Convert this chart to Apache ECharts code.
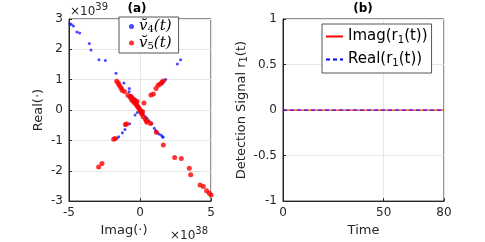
<!DOCTYPE html>
<html><head><meta charset="utf-8">
<script src="https://cdn.jsdelivr.net/npm/echarts@6/dist/echarts.min.js"></script>
<style>html,body{margin:0;padding:0;background:#fff}#c{width:485px;height:242px}</style>
</head><body><div id="c"></div>
<script>
// Panel (a): Imag (x, ×10^38) and Real (y, ×10^39)
const v4Imag = [-4.93,-4.84,-4.69,-4.44,-4.25,-3.57,-3.45,-2.89,-2.44,-1.69,-1.13,-1.25,-0.77,-0.66,-0.52,-0.35,-0.28,-0.16,-0.05,0.12,0.23,0.38,0.49,0.63,0.82,1.01,1.10,1.20,1.34,1.50,1.60,1.62,2.86,2.63,1.81,1.64,1.57,-0.73,-1.06,-1.24,-1.50,-1.62,-0.35,-0.19,-0.75];
const v4Real = [2.84,2.82,2.77,2.57,2.54,2.19,1.98,1.66,1.63,1.21,0.89,0.73,0.60,0.49,0.42,0.37,0.23,0.13,0.05,-0.06,-0.13,-0.22,-0.27,-0.35,-0.44,-0.60,-0.67,-0.75,-0.79,-0.83,-0.88,-0.90,1.66,1.52,1.01,0.93,0.87,-0.45,-0.64,-0.75,-0.88,-0.93,-0.16,-0.08,0.71];
const v5Imag = [-1.64,-1.53,-1.46,-1.36,-1.27,-1.10,-0.85,-0.70,-0.59,-0.47,-0.38,-0.28,-0.21,-0.14,-0.07,0.00,0.07,0.14,0.23,0.38,0.49,0.28,0.77,0.94,1.13,1.27,1.41,1.53,1.64,0.75,1.15,1.64,-1.03,-0.94,-1.76,-1.85,-2.91,-2.68,2.44,2.91,3.47,3.57,4.23,4.46,4.69,4.88,5.00,-0.52,-0.30,-0.20,0.05,0.10,0.18,-0.62,0.45];
const v5Real = [0.95,0.89,0.82,0.74,0.65,0.61,0.49,0.42,0.33,0.28,0.23,0.19,0.14,0.10,0.05,0.00,-0.06,-0.13,-0.22,-0.30,-0.40,0.23,0.50,0.53,0.71,0.82,0.85,0.92,0.96,-0.44,-0.73,-1.15,-0.48,-0.46,-0.94,-0.96,-1.88,-1.76,-1.56,-1.60,-1.92,-2.13,-2.47,-2.52,-2.66,-2.74,-2.80,0.38,0.30,0.28,-0.02,-0.10,-0.05,0.45,-0.35];
// Panel (b)
const timeVals = [0, 80];
const imagR1 = [0, 0];
const realR1 = [0, 0];
const xTicksA = [-5, 0, 5];
const yTicksA = [-3, -2, -1, 0, 1, 2, 3];

const zip = (a, b) => a.map((v, i) => [v, b[i]]);
const axisCol = '#262626';
const gridCol = '#e6e6e6';
const FONT = 'DejaVu Sans';
const lblStyle = { color: axisCol, fontSize: 12, fontFamily: FONT };
const baseAxis = {
  axisLine: { show: true, onZero: false, lineStyle: { color: axisCol } },
  axisTick: { show: true, inside: true, length: 3, lineStyle: { color: axisCol } },
  splitLine: { show: true, lineStyle: { color: gridCol } },
  axisLabel: Object.assign({ margin: 6 }, lblStyle),
  nameTextStyle: { color: axisCol, fontSize: 13, fontFamily: FONT }
};
const chart = echarts.init(document.getElementById('c'), null, { renderer: 'canvas' });
chart.setOption({
  animation: false,
  backgroundColor: '#fff',
  title: [
    { text: '(a)', left: 137, top: 3, padding: 0, textAlign: 'center', textStyle: { fontSize: 12, fontWeight: 'bold', color: '#000', fontFamily: FONT } },
    { text: '(b)', left: 363, top: 3, padding: 0, textAlign: 'center', textStyle: { fontSize: 12, fontWeight: 'bold', color: '#000', fontFamily: FONT } }
  ],
  grid: [
    { left: 69, top: 19, width: 142, height: 188, show: true, borderColor: axisCol, borderWidth: 1, backgroundColor: 'transparent' },
    { left: 283, top: 19, width: 161, height: 189, show: true, borderColor: axisCol, borderWidth: 1, backgroundColor: 'transparent' }
  ],
  xAxis: [
    Object.assign({}, baseAxis, { gridIndex: 0, type: 'value', min: xTicksA[0], max: xTicksA[2], interval: 5,
      name: 'Imag(·)', nameLocation: 'middle', nameGap: 18,
      nameTextStyle: Object.assign({}, baseAxis.nameTextStyle, { padding: [0, 32, 0, 0] }) }),
    Object.assign({}, baseAxis, { gridIndex: 1, type: 'value', min: 0, max: 80, interval: 50,
      name: 'Time', nameLocation: 'middle', nameGap: 19 })
  ],
  yAxis: [
    Object.assign({}, baseAxis, { gridIndex: 0, type: 'value', min: yTicksA[0], max: yTicksA[6], interval: 1,
      name: 'Real(·)', nameLocation: 'middle', nameGap: 24 }),
    Object.assign({}, baseAxis, { gridIndex: 1, type: 'value', min: -1, max: 1, interval: 0.5,
      name: '{n|Detection Signal r}{s|1}{n|(t)}', nameLocation: 'middle', nameGap: 32,
      nameTextStyle: { color: axisCol, fontSize: 13, fontFamily: FONT,
        rich: { n: { fontSize: 13, color: axisCol, fontFamily: FONT },
                s: { fontSize: 10, color: axisCol, fontFamily: FONT, padding: [6, 0, 0, 0] } } } })
  ],
  legend: [
    { data: ['v4', 'v5'], left: 119, top: 17, orient: 'vertical', itemGap: 1,
      itemWidth: 5, itemHeight: 5, padding: [2, 7, 2, 10],
      borderColor: '#555', borderWidth: 1, backgroundColor: '#fff',
      formatter: n => n === 'v4' ? '{i|v̆}{s|4}{i|(t)}' : '{i|v̆}{s|5}{i|(t)}',
      textStyle: { rich: {
        i: { fontSize: 15, fontStyle: 'italic', fontFamily: 'DejaVu Serif', color: '#000' },
        s: { fontSize: 10, fontFamily: 'DejaVu Serif', color: '#000', padding: [6, 0, 0, 0] } } } },
    { data: ['Imag', 'Real'], left: 322, top: 24, orient: 'vertical', itemGap: 7,
      itemWidth: 17, itemHeight: 8, padding: [5, 4, 5, 3],
      borderColor: '#555', borderWidth: 1, backgroundColor: '#fff',
      itemStyle: { opacity: 0 },
      formatter: n => n === 'Imag' ? '{n|Imag(r}{s|1}{n|(t))}' : '{n|Real(r}{s|1}{n|(t))}',
      textStyle: { rich: {
        n: { fontSize: 15, fontFamily: FONT, color: '#000' },
        s: { fontSize: 10, fontFamily: FONT, color: '#000', padding: [7, 0, 0, 0] } } } }
  ],
  graphic: [
    { type: 'text', left: 70, top: 2, style: { text: '{a|×10}{b|39}', rich: {
      a: { fontSize: 12, fontFamily: FONT, fill: axisCol, padding: [4, 0, 0, 0] },
      b: { fontSize: 10, fontFamily: FONT, fill: axisCol, padding: [0, 0, 5, 0] } } } },
    { type: 'text', left: 170, top: 226, style: { text: '{a|×10}{b|38}', rich: {
      a: { fontSize: 12, fontFamily: FONT, fill: axisCol, padding: [4, 0, 0, 0] },
      b: { fontSize: 10, fontFamily: FONT, fill: axisCol, padding: [0, 0, 5, 0] } } } }
  ],
  series: [
    { name: 'v4', type: 'scatter', xAxisIndex: 0, yAxisIndex: 0, data: zip(v4Imag, v4Real),
      symbol: 'circle', symbolSize: 3, itemStyle: { color: '#1a1aff' }, z: 3 },
    { name: 'v5', type: 'scatter', xAxisIndex: 0, yAxisIndex: 0, data: zip(v5Imag, v5Real),
      symbol: 'circle', symbolSize: 5, itemStyle: { color: '#ff0000' }, z: 4 },
    { name: 'Imag', type: 'line', xAxisIndex: 1, yAxisIndex: 1, data: zip(timeVals, imagR1),
      symbol: 'none', lineStyle: { color: '#ff0000', width: 1 }, itemStyle: { color: '#ff0000' } },
    { name: 'Real', type: 'line', xAxisIndex: 1, yAxisIndex: 1, data: zip(timeVals, realR1),
      symbol: 'none', lineStyle: { color: '#0000ff', width: 1, type: [4, 3] }, itemStyle: { color: '#0000ff' } }
  ]
});
</script></body></html>
